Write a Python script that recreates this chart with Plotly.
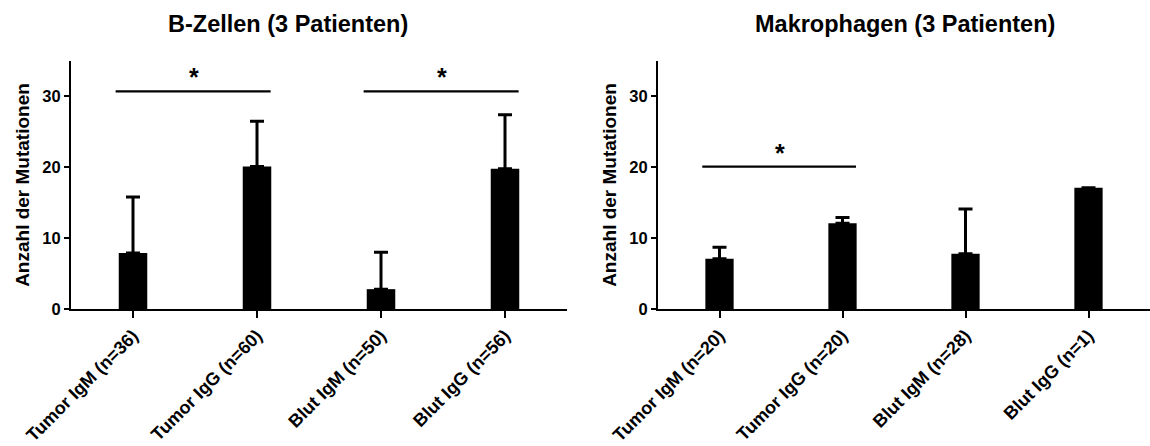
import math
import plotly.graph_objects as go

# Mean mutation counts with upward SD whiskers
b_categories = ["Tumor IgM (n=36)", "Tumor IgG (n=60)", "Blut IgM (n=50)", "Blut IgG (n=56)"]
b_means = [7.9, 20.1, 2.8, 19.8]
b_sd = [7.9, 6.4, 5.2, 7.6]

m_categories = ["Tumor IgM (n=20)", "Tumor IgG (n=20)", "Blut IgM (n=28)", "Blut IgG (n=1)"]
m_means = [7.1, 12.1, 7.8, 17.1]
m_sd = [1.6, 0.8, 6.3, 0.0]

# Significance brackets: (first group, second group, height)
b_sig = [(0, 1, 30.7), (2, 3, 30.7)]
m_sig = [(0, 1, 20.1)]

titles = ["B-Zellen (3 Patienten)", "Makrophagen (3 Patienten)"]
y_title = "Anzahl der Mutationen"
y_ticks = [0, 10, 20, 30]

FONT = "Liberation Sans, Arial, sans-serif"
W, H = 1150, 446

fig = go.Figure()

panels = [
    ("x", "y", b_categories, b_means, b_sd, b_sig),
    ("x2", "y2", m_categories, m_means, m_sd, m_sig),
]

for xa, ya, cats, means, sd, sig in panels:
    # a single observation has no spread, so no whisker is drawn for it
    up = [s if s > 0 else math.nan for s in sd]
    down = [0 if s > 0 else math.nan for s in sd]
    fig.add_trace(go.Bar(
        x=list(range(len(cats))), y=means, xaxis=xa, yaxis=ya,
        width=0.23, marker=dict(color="black", line=dict(width=0)),
        error_y=dict(type="data", symmetric=False, array=up,
                     arrayminus=down, color="black",
                     thickness=3, width=7),
        showlegend=False, hoverinfo="skip",
    ))
    for g0, g1, h in sig:
        fig.add_trace(go.Scatter(
            x=[g0 - 0.14, g1 + 0.11], y=[h, h], xaxis=xa, yaxis=ya,
            mode="lines", line=dict(color="black", width=2.2),
            showlegend=False, hoverinfo="skip",
        ))
        fig.add_annotation(
            x=(g0 + g1) / 2 - 0.01, y=h, xref=xa, yref=ya, text="<b>*</b>",
            showarrow=False, yanchor="bottom", yshift=-2,
            font=dict(family=FONT, size=25, color="black"),
        )

y_dom = [137 / H, 385 / H]
x_doms = [[71 / W, 567 / W], [658 / W, 1.0]]

axis_common = dict(
    showline=True, linecolor="black", linewidth=2.2, showgrid=False,
    zeroline=False, ticks="outside", tickcolor="black", tickwidth=2.2,
    automargin=False,
)

layout = dict(
    width=W, height=H, margin=dict(l=0, r=0, t=0, b=0),
    plot_bgcolor="white", paper_bgcolor="white",
    font=dict(family=FONT, color="black"),
)

for i, (cats, xd) in enumerate(zip([b_categories, m_categories], x_doms)):
    sfx = "" if i == 0 else str(i + 1)
    layout["xaxis" + sfx] = dict(
        axis_common, domain=xd, anchor="y" + sfx, range=[-0.5, 3.5],
        tickmode="array", tickvals=list(range(len(cats))),
        ticktext=["<b>%s</b>" % c for c in cats], tickangle=-45,
        ticklen=7, tickfont=dict(family=FONT, size=18, color="black"),
    )
    layout["yaxis" + sfx] = dict(
        axis_common, domain=y_dom, anchor="x" + sfx, range=[0, 35],
        tickmode="array", tickvals=y_ticks,
        ticktext=["<b>%d</b>" % v for v in y_ticks], ticklen=5,
        tickfont=dict(family=FONT, size=16.5, color="black"),
        title=dict(text="<b>%s</b>" % y_title, standoff=8,
                   font=dict(family=FONT, size=19, color="black")),
    )

fig.update_layout(**layout)

# Panel titles
for title, cx in zip(titles, [288, 905]):
    fig.add_annotation(
        x=cx / W, y=1 - 24 / H, xref="paper", yref="paper",
        text="<b>%s</b>" % title, showarrow=False,
        xanchor="center", yanchor="middle",
        font=dict(family=FONT, size=23.5, color="black"),
    )

fig.write_html("out.html")
